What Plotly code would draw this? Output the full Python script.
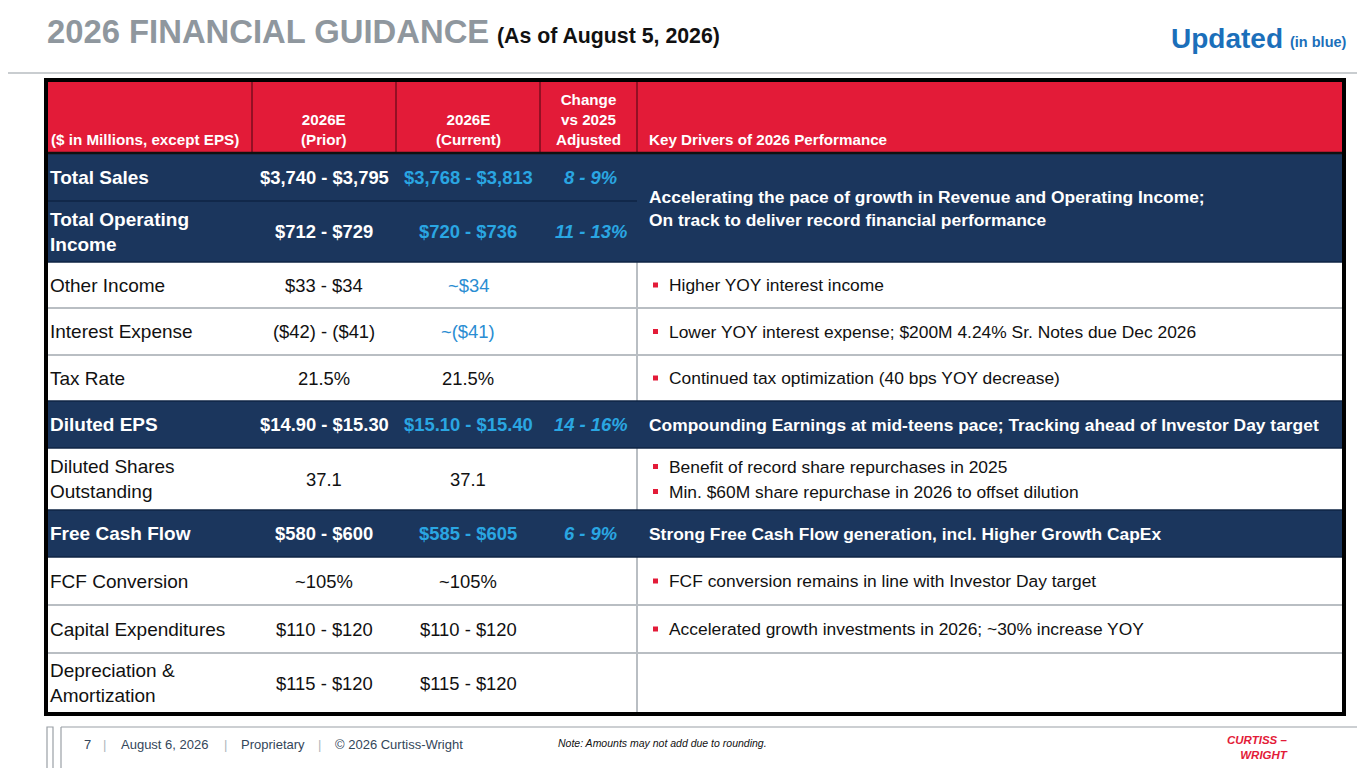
import plotly.graph_objects as go

W, H = 1365, 768
FONT = "Liberation Sans, Arial, sans-serif"

# ---- table content ----
header = ["($ in Millions, except EPS)", "2026E<br>(Prior)", "2026E<br>(Current)",
          "Change<br>vs 2025<br>Adjusted", "Key Drivers of 2026 Performance"]

labels = ["Total Sales", "Total Operating<br>Income", "Other Income", "Interest Expense",
          "Tax Rate", "Diluted EPS", "Diluted Shares<br>Outstanding", "Free Cash Flow",
          "FCF Conversion", "Capital Expenditures", "Depreciation &<br>Amortization"]
prior = ["$3,740 - $3,795", "$712 - $729", "$33 - $34", "($42) - ($41)", "21.5%",
         "$14.90 - $15.30", "37.1", "$580 - $600", "~105%", "$110 - $120", "$115 - $120"]
current = ["$3,768 - $3,813", "$720 - $736", "~$34", "~($41)", "21.5%",
           "$15.10 - $15.40", "37.1", "$585 - $605", "~105%", "$110 - $120", "$115 - $120"]
change = ["8 - 9%", "11 - 13%", "", "", "", "14 - 16%", "", "6 - 9%", "", "", ""]
updated = [True, True, True, True, False, True, False, True, False, False, False]
key_rows = [True, True, False, False, False, True, False, True, False, False, False]

# key drivers: text for highlighted rows (None = merged with row above), bullet lists otherwise
drivers = [
    "Accelerating the pace of growth in Revenue and Operating Income;<br>"
    "On track to deliver record financial performance",
    None,
    ["Higher YOY interest income"],
    ["Lower YOY interest expense; $200M 4.24% Sr. Notes due Dec 2026"],
    ["Continued tax optimization (40 bps YOY decrease)"],
    "Compounding Earnings at mid-teens pace; Tracking ahead of Investor Day target",
    ["Benefit of record share repurchases in 2025",
     "Min. $60M share repurchase in 2026 to offset dilution"],
    "Strong Free Cash Flow generation, incl. Higher Growth CapEx",
    ["FCF conversion remains in line with Investor Day target"],
    ["Accelerated growth investments in 2026; ~30% increase YOY"],
    [],
]

# ---- geometry / styles ----
col_edges = [46, 252, 396, 540, 637, 1344]
row_edges = [153, 201, 262, 308, 355, 401, 448, 510, 557, 605, 653, 713]
head_top = 81
OFF = 8  # page body margin, so slide coords line up with the window

RED = "#e31b38"
NAVY = "#1b365d"
CYAN = "#2aa6e2"
BLUE = "#2a8dd2"
GRID = "#b9bec3"
LBL = 19       # row labels
VAL = 18.4     # numbers
DRV = 17.4     # key drivers text

fig = go.Figure()
fig.add_trace(go.Scatter(x=[OFF, W], y=[OFF, H], mode="markers", marker=dict(opacity=0),
                         hoverinfo="skip", showlegend=False))

shapes = []
ann = []


def rect(x0, y0, x1, y1, fill, line=None, lw=0):
    shapes.append(dict(type="rect", xref="x", yref="y", x0=x0, y0=y0, x1=x1, y1=y1,
                       fillcolor=fill, line=dict(color=line or fill, width=lw), layer="below"))


def hline(x0, x1, y, color, w):
    shapes.append(dict(type="line", xref="x", yref="y", x0=x0, x1=x1, y0=y, y1=y,
                       line=dict(color=color, width=w)))


def vline(x, y0, y1, color, w):
    shapes.append(dict(type="line", xref="x", yref="y", x0=x, x1=x, y0=y0, y1=y1,
                       line=dict(color=color, width=w)))


def text(x, y, s, size, color, xa="left", ya="middle", weight="normal", style="normal",
         align="left", family=FONT):
    ann.append(dict(x=x, y=y, xref="x", yref="y", text=s, showarrow=False, xanchor=xa,
                    yanchor=ya, align=align, borderpad=0,
                    font=dict(family=family, size=size, color=color, weight=weight, style=style)))


# title block
text(46, 31, "2026 FINANCIAL GUIDANCE", 32.8, "#8f979e", weight="bold")
text(496, 36, "(As of August 5, 2026)", 21.3, "#111111", weight="bold")
text(1284, 38, "Updated", 28, "#1b6fba", xa="right", weight="bold")
text(1348, 42, "(in blue)", 14.5, "#1b6fba", xa="right", weight="bold")
hline(0, W + OFF, 73, "#c9cdd0", 2)

# header
rect(col_edges[0], head_top, col_edges[-1], row_edges[0], RED)
for x in col_edges[1:-1]:
    vline(x, head_top, row_edges[0], "#7a0e1e", 1.5)
hline(col_edges[0], col_edges[-1], row_edges[0], "#111111", 2.5)
for i, h in enumerate(header):
    if i == 0:
        text(col_edges[0] + 4, row_edges[0] - 4, h, 15.2, "white", ya="bottom", weight="bold")
    elif i == 4:
        text(col_edges[4] + 11, row_edges[0] - 4, h, 15.2, "white", ya="bottom", weight="bold")
    else:
        text((col_edges[i] + col_edges[i + 1]) / 2, row_edges[0] - 4, h, 15.2, "white",
             xa="center", ya="bottom", weight="bold", align="center")

# body rows
for r in range(len(labels)):
    y0, y1 = row_edges[r], row_edges[r + 1]
    yc = (y0 + y1) / 2
    dark = key_rows[r]
    rect(col_edges[0], y0, col_edges[-1], y1, NAVY if dark else "white")
    fg = "white" if dark else "#111111"
    wt = "bold" if dark else "normal"
    upd = CYAN if dark else BLUE
    text(col_edges[0] + 3, yc, labels[r], LBL, fg, weight=wt)
    text((col_edges[1] + col_edges[2]) / 2, yc, prior[r], VAL, fg, xa="center", weight=wt)
    text((col_edges[2] + col_edges[3]) / 2, yc, current[r], VAL, upd if updated[r] else fg,
         xa="center", weight=wt)
    if change[r]:
        text((col_edges[3] + col_edges[4]) / 2 + 2, yc, change[r], VAL, CYAN, xa="center",
             weight="bold", style="italic")
    d = drivers[r]
    if isinstance(d, str):
        yd = yc
        if r + 1 < len(drivers) and drivers[r + 1] is None:
            yd = (y0 + row_edges[r + 2]) / 2 + 1
        text(col_edges[4] + 11, yd, d, DRV, "white", weight="bold")
    elif isinstance(d, list):
        n = len(d)
        for k, b in enumerate(d):
            yb = yc + (k - (n - 1) / 2) * 25
            rect(col_edges[4] + 16, yb - 2.5, col_edges[4] + 21, yb + 2.5, RED)
            text(col_edges[4] + 31, yb, b, DRV, "#111111")

# grid lines
for r in range(len(labels)):
    y0, y1 = row_edges[r], row_edges[r + 1]
    if not key_rows[r]:
        vline(col_edges[4], y0, y1, GRID, 2)
    if r > 0:
        if key_rows[r] and key_rows[r - 1]:
            hline(col_edges[0], col_edges[4], y0, "#0f2544", 1.5)
        elif key_rows[r] or key_rows[r - 1]:
            hline(col_edges[0], col_edges[-1], y0, "#0f2544", 1.5)
        else:
            hline(col_edges[0], col_edges[-1], y0, GRID, 2)

# outer border
shapes.append(dict(type="rect", xref="x", yref="y", x0=col_edges[0], y0=head_top - 1,
                   x1=col_edges[-1], y1=row_edges[-1] + 1, line=dict(color="#000000", width=4)))

# footer
shapes.append(dict(type="rect", xref="x", yref="y", x0=47, y0=727, x1=53, y1=H + 10,
                   line=dict(color="#9aa0a6", width=1.2)))
vline(61, 727, H + 10, "#9aa0a6", 1.2)
hline(61, W + OFF, 727, "#9aa0a6", 1.2)
FOOT = "#34465a"
SEP = "#b0b6bc"
text(83, 744, "7", 13, FOOT)
text(102, 744, "|", 13, SEP)
text(120, 744, "August 6, 2026", 13, FOOT)
text(223, 744, "|", 13, SEP)
text(240, 744, "Proprietary", 13, FOOT)
text(317, 744, "|", 13, SEP)
text(334, 744, "© 2026 Curtiss-Wright", 13, FOOT)
text(557, 743, "Note: Amounts may not add due to rounding.", 10.5, "#111111", style="italic")

# logo
text(1289, 747, "CURTISS –<br>WRIGHT", 11.5, "#e31b38", xa="right", weight="bold",
     style="italic", align="right")

fig.update_layout(
    width=W, height=H, margin=dict(l=0, r=0, t=0, b=0),
    paper_bgcolor="white", plot_bgcolor="white",
    xaxis=dict(range=[OFF, W + OFF], visible=False, fixedrange=True),
    yaxis=dict(range=[H + OFF, OFF], visible=False, fixedrange=True),
    shapes=shapes, annotations=ann, showlegend=False,
)

fig.write_html("out.html")
